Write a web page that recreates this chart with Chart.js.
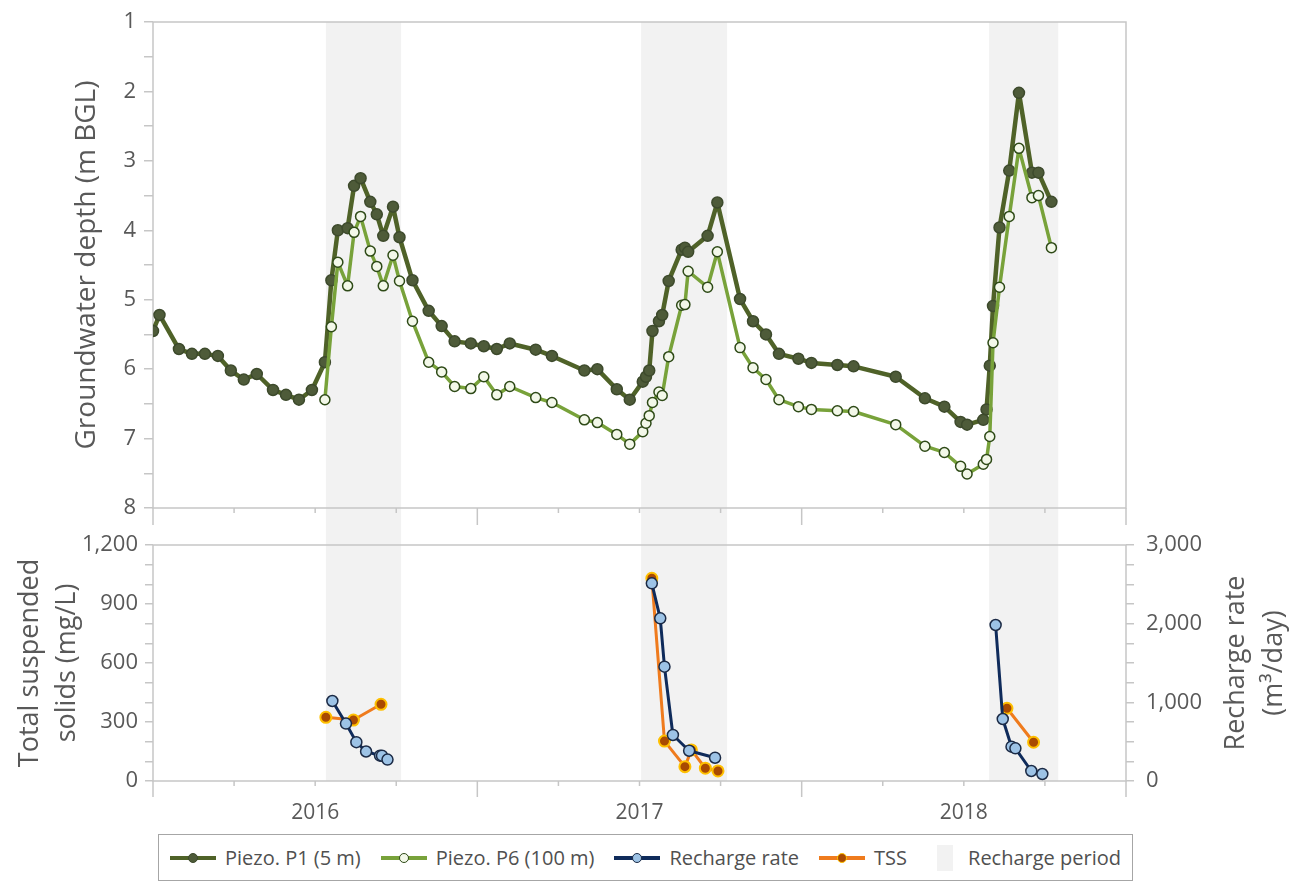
<!DOCTYPE html>
<html>
<head>
<meta charset="utf-8">
<script src="https://cdn.jsdelivr.net/npm/chart.js@4.4.1/dist/chart.umd.min.js"></script>
<style>
  body { margin: 0; background: #fff; font-family: 'Open Sans', sans-serif; }
  #wrap { position: relative; width: 1296px; height: 885px; overflow: hidden; }
  #topChart { position: absolute; left: 0; top: 0; }
  #bottomChart { position: absolute; left: 0; top: 525px; }
  #legend {
    position: absolute; left: 158px; top: 834px; width: 975px; height: 47px;
    box-sizing: border-box; border: 1.5px solid #a6a6a6;
    display: flex; align-items: center; justify-content: center; gap: 20px;
    font-size: 20px; color: #505050;
  }
  .item { display: flex; align-items: center; gap: 9px; }
  .sw { position: relative; width: 46px; height: 14px; }
  .sw .ln { position: absolute; left: 0; right: 0; top: 5px; height: 4px; }
  .sw .dot { position: absolute; left: 18px; top: 2px; width: 10px; height: 10px; border-radius: 50%;
             border: 1.5px solid; box-sizing: border-box; }
  .box { width: 16px; height: 26px; background: #f2f2f2; margin: 0 6px 0 10px; }
</style>
</head>
<body>
<div id="wrap">
  <canvas id="topChart" width="1296" height="525"></canvas>
  <canvas id="bottomChart" width="1296" height="305"></canvas>
  <div id="legend"></div>
</div>
<script>
// Piezometer P1 (5 m), groundwater depth in m below ground level
const p1Years = [2015.50, 2015.52, 2015.58, 2015.62, 2015.66, 2015.70, 2015.74, 2015.78, 2015.82, 2015.87,
  2015.91, 2015.95, 2015.99, 2016.03, 2016.05, 2016.07, 2016.10, 2016.12, 2016.14, 2016.17,
  2016.19, 2016.21, 2016.24, 2016.26, 2016.30, 2016.35, 2016.39, 2016.43, 2016.48, 2016.52,
  2016.56, 2016.60, 2016.68, 2016.73, 2016.83, 2016.87, 2016.93, 2016.97, 2017.01, 2017.02,
  2017.03, 2017.04, 2017.06, 2017.07, 2017.09, 2017.13, 2017.14, 2017.15, 2017.21, 2017.24,
  2017.31, 2017.35, 2017.39, 2017.43, 2017.49, 2017.53, 2017.61, 2017.66, 2017.79, 2017.88,
  2017.94, 2017.99, 2018.01, 2018.06, 2018.07, 2018.08, 2018.09, 2018.11, 2018.14, 2018.17,
  2018.21, 2018.23, 2018.27];
const p1Depth = [5.45, 5.22, 5.71, 5.78, 5.78, 5.81, 6.02, 6.15, 6.07, 6.30,
  6.37, 6.44, 6.30, 5.90, 4.72, 4.00, 3.97, 3.36, 3.25, 3.59,
  3.77, 4.08, 3.66, 4.10, 4.72, 5.16, 5.38, 5.60, 5.63, 5.67,
  5.71, 5.63, 5.72, 5.81, 6.02, 6.00, 6.29, 6.44, 6.18, 6.11,
  6.02, 5.45, 5.31, 5.22, 4.73, 4.28, 4.25, 4.31, 4.08, 3.60,
  4.99, 5.31, 5.50, 5.78, 5.85, 5.91, 5.94, 5.96, 6.11, 6.42,
  6.54, 6.76, 6.80, 6.73, 6.58, 5.95, 5.09, 3.96, 3.14, 2.02,
  3.17, 3.17, 3.59];

// Piezometer P6 (100 m)
const p6Years = [2016.03, 2016.05, 2016.07, 2016.10, 2016.12, 2016.14, 2016.17, 2016.19, 2016.21, 2016.24,
  2016.26, 2016.30, 2016.35, 2016.39, 2016.43, 2016.48, 2016.52, 2016.56, 2016.60, 2016.68,
  2016.73, 2016.83, 2016.87, 2016.93, 2016.97, 2017.01, 2017.02, 2017.03, 2017.04, 2017.06,
  2017.07, 2017.09, 2017.13, 2017.14, 2017.15, 2017.21, 2017.24, 2017.31, 2017.35, 2017.39,
  2017.43, 2017.49, 2017.53, 2017.61, 2017.66, 2017.79, 2017.88, 2017.94, 2017.99, 2018.01,
  2018.06, 2018.07, 2018.08, 2018.09, 2018.11, 2018.14, 2018.17, 2018.21, 2018.23, 2018.27];
const p6Depth = [6.44, 5.39, 4.46, 4.80, 4.03, 3.80, 4.30, 4.52, 4.80, 4.36,
  4.73, 5.31, 5.90, 6.04, 6.25, 6.28, 6.11, 6.37, 6.25, 6.41,
  6.48, 6.73, 6.77, 6.94, 7.08, 6.90, 6.78, 6.67, 6.48, 6.33,
  6.38, 5.82, 5.08, 5.07, 4.59, 4.82, 4.31, 5.69, 5.98, 6.15,
  6.44, 6.54, 6.58, 6.60, 6.61, 6.80, 7.11, 7.20, 7.40, 7.51,
  7.37, 7.30, 6.97, 5.62, 4.82, 3.80, 2.82, 3.53, 3.50, 4.25];

// Recharge rate (m3/day); null breaks the line between seasons
const rechargeYears = [2016.053, 2016.095, 2016.127, 2016.157, 2016.200, 2016.206, 2016.223, 2016.6,
  2017.038, 2017.064, 2017.077, 2017.103, 2017.153, 2017.233, 2017.6,
  2018.098, 2018.120, 2018.147, 2018.159, 2018.208, 2018.242];
const rechargeRate = [1017, 730, 494, 375, 322, 322, 272, null,
  2513, 2068, 1453, 585, 385, 296, null,
  1983, 788, 436, 415, 127, 89];

// Total suspended solids (mg/L)
const tssYears = [2016.033, 2016.118, 2016.203, 2016.6,
  2017.038, 2017.077, 2017.140, 2017.160, 2017.203, 2017.242, 2017.6,
  2018.133, 2018.215];
const tssValues = [324, 310, 390, null,
  1031, 203, 73, 158, 65, 51, null,
  370, 197];

// Recharge periods (decimal years)
const rechargeStart = [2016.033, 2017.005, 2018.078];
const rechargeEnd = [2016.265, 2017.270, 2018.291];

const depthTitle = 'Groundwater depth (m BGL)';
const tssTitle = ['Total suspended', 'solids (mg/L)'];
const rechargeTitle = ['Recharge rate', '(m³/day)'];

const textColor = '#595959';
const axisColor = '#c6c6c6';
Chart.defaults.font.family = "'Open Sans', sans-serif";
Chart.defaults.color = textColor;

const toXY = (xs, ys) => xs.map((x, i) => ({ x: x, y: ys[i] }));
// small line height keeps the label overflow from pushing the plot area
const tickFont = { size: 22, lineHeight: 0.65 };

// grey recharge bands, drawn before everything else
const bandsPlugin = {
  id: 'bands',
  beforeDraw(chart, args, opts) {
    const { ctx, chartArea, scales: { x } } = chart;
    const top = opts.fromTop ? 0 : chartArea.top;
    const bottom = opts.toBottom ? chart.height : chartArea.bottom;
    ctx.save();
    ctx.fillStyle = '#f2f2f2';
    rechargeStart.forEach((s, i) => {
      const x0 = x.getPixelForValue(s);
      const x1 = x.getPixelForValue(rechargeEnd[i]);
      ctx.fillRect(x0, top, x1 - x0, bottom - top);
    });
    ctx.restore();
  }
};

// plot frame + x tick marks (longer at mid-year)
const framePlugin = {
  id: 'frame',
  beforeDatasetsDraw(chart, args, opts) {
    const { ctx, chartArea: a, scales: { x } } = chart;
    ctx.save();
    ctx.strokeStyle = axisColor;
    ctx.lineWidth = 1.5;
    ctx.strokeRect(a.left, a.top, a.right - a.left, a.bottom - a.top);
    x.ticks.forEach(t => {
      const px = x.getPixelForValue(t.value);
      const len = Math.abs(t.value % 1 - 0.5) < 1e-6 ? opts.majorLen : opts.minorLen;
      ctx.beginPath();
      ctx.moveTo(px, a.bottom);
      ctx.lineTo(px, a.bottom + len);
      ctx.stroke();
    });
    ctx.restore();
  }
};

// right axis title reads bottom-to-top like the left one
const rightTitlePlugin = {
  id: 'rightTitle',
  afterDraw(chart) {
    const s = chart.scales.y2;
    const ctx = chart.ctx;
    const cy = (s.top + s.bottom) / 2;
    ctx.save();
    ctx.fillStyle = textColor;
    ctx.font = "27px 'Open Sans', sans-serif";
    ctx.textAlign = 'center';
    ctx.textBaseline = 'middle';
    rechargeTitle.forEach((line, i) => {
      ctx.save();
      ctx.translate(s.left + 110 + i * 38, cy);
      ctx.rotate(-Math.PI / 2);
      ctx.fillText(line, 0, 0);
      ctx.restore();
    });
    ctx.restore();
  }
};

const xScale = (height, showLabels) => ({
  type: 'linear',
  min: 2015.5,
  max: 2018.5,
  ticks: {
    display: showLabels,
    stepSize: 0.25,
    autoSkip: false,
    maxRotation: 0,
    padding: 19,
    font: { size: 21 },
    callback: v => Number.isInteger(v) ? String(v) : ''
  },
  grid: { display: true, drawOnChartArea: false, drawTicks: false, color: 'rgba(0,0,0,0)' },
  border: { display: false },
  afterFit: s => { s.height = height; }
});

new Chart(document.getElementById('topChart'), {
  type: 'line',
  data: {
    datasets: [
      {
        label: 'Piezo. P6 (100 m)',
        data: toXY(p6Years, p6Depth),
        borderColor: '#78a23a',
        borderWidth: 3.5,
        borderJoinStyle: 'round',
        pointRadius: 5,
        pointBackgroundColor: '#f3f8e9',
        pointBorderColor: '#2e4a17',
        pointBorderWidth: 1.5,
        tension: 0,
        order: 0
      },
      {
        label: 'Piezo. P1 (5 m)',
        data: toXY(p1Years, p1Depth),
        borderColor: '#4f6228',
        borderWidth: 4.5,
        borderJoinStyle: 'round',
        pointRadius: 5.5,
        pointBackgroundColor: '#4e5b39',
        pointBorderColor: '#3d4a2c',
        pointBorderWidth: 1.5,
        tension: 0,
        order: 1
      }
    ]
  },
  options: {
    responsive: false,
    animation: false,
    layout: { padding: { top: 22, right: 170, left: 0, bottom: 0 } },
    plugins: {
      legend: { display: false },
      tooltip: { enabled: false },
      bands: { fromTop: false, toBottom: true },
      frame: { majorLen: 17, minorLen: 5 }
    },
    scales: {
      x: xScale(17, false),
      y: {
        reverse: true,
        min: 1,
        max: 8,
        ticks: {
          stepSize: 0.5,
          maxTicksLimit: 100,
          autoSkip: false,
          padding: 8,
          font: tickFont,
          callback: v => Number.isInteger(v) ? String(v) : ''
        },
        grid: { drawOnChartArea: false, tickLength: 9, color: axisColor, lineWidth: 1.5 },
        border: { display: false },
        title: {
          display: true,
          text: depthTitle,
          font: { size: 28, lineHeight: 1.2 },
          padding: { top: 70, bottom: 0 }
        },
        afterFit: s => { s.width = 153; }
      }
    }
  },
  plugins: [bandsPlugin, framePlugin]
});

new Chart(document.getElementById('bottomChart'), {
  type: 'line',
  data: {
    datasets: [
      {
        label: 'Recharge rate',
        data: toXY(rechargeYears, rechargeRate),
        yAxisID: 'y2',
        borderColor: '#0f2b5b',
        borderWidth: 3,
        borderJoinStyle: 'round',
        pointRadius: 5.5,
        pointBackgroundColor: '#9dc3e6',
        pointBorderColor: '#1b2a45',
        pointBorderWidth: 1.5,
        spanGaps: false,
        tension: 0,
        order: 0
      },
      {
        label: 'TSS',
        data: toXY(tssYears, tssValues),
        yAxisID: 'y',
        borderColor: '#ef7b1d',
        borderWidth: 3,
        borderJoinStyle: 'round',
        pointRadius: 5.5,
        pointBackgroundColor: '#a94a02',
        pointBorderColor: '#ffc000',
        pointBorderWidth: 2,
        spanGaps: false,
        tension: 0,
        order: 1
      }
    ]
  },
  options: {
    responsive: false,
    animation: false,
    layout: { padding: { top: 20, right: 0, left: 0, bottom: 0 } },
    plugins: {
      legend: { display: false },
      tooltip: { enabled: false },
      bands: { fromTop: true, toBottom: false },
      frame: { majorLen: 16, minorLen: 5 }
    },
    scales: {
      x: xScale(49, true),
      y: {
        position: 'left',
        min: 0,
        max: 1200,
        ticks: {
          stepSize: 100,
          maxTicksLimit: 100,
          autoSkip: false,
          padding: 7,
          font: tickFont,
          callback: v => v % 300 === 0 ? v.toLocaleString('en-US') : ''
        },
        grid: { drawOnChartArea: false, tickLength: 8, color: axisColor, lineWidth: 1.5 },
        border: { display: false },
        title: {
          display: true,
          text: tssTitle,
          font: { size: 27, lineHeight: 1.4 },
          padding: { top: 11, bottom: 0 }
        },
        afterFit: s => { s.width = 153; }
      },
      y2: {
        position: 'right',
        min: 0,
        max: 3000,
        ticks: {
          stepSize: 250,
          maxTicksLimit: 100,
          autoSkip: false,
          padding: 12,
          font: tickFont,
          callback: v => v % 1000 === 0 ? v.toLocaleString('en-US') : ''
        },
        grid: { drawOnChartArea: false, tickLength: 8, color: axisColor, lineWidth: 1.5 },
        border: { display: false },
        afterFit: s => { s.width = 170; }
      }
    }
  },
  plugins: [bandsPlugin, framePlugin, rightTitlePlugin]
});

// HTML legend
const legendItems = [
  { name: 'Piezo. P1 (5 m)', line: '#4f6228', fill: '#4e5b39', edge: '#3d4a2c' },
  { name: 'Piezo. P6 (100 m)', line: '#78a23a', fill: '#f3f8e9', edge: '#2e4a17' },
  { name: 'Recharge rate', line: '#0f2b5b', fill: '#9dc3e6', edge: '#1b2a45' },
  { name: 'TSS', line: '#ef7b1d', fill: '#a94a02', edge: '#ffc000' },
  { name: 'Recharge period', box: true }
];
const legend = document.getElementById('legend');
legendItems.forEach(it => {
  const div = document.createElement('div');
  div.className = 'item';
  if (it.box) {
    div.innerHTML = `<span class="box"></span>${it.name}`;
  } else {
    div.innerHTML = `<span class="sw"><i class="ln" style="background:${it.line}"></i>` +
      `<i class="dot" style="background:${it.fill};border-color:${it.edge}"></i></span>${it.name}`;
  }
  legend.appendChild(div);
});
</script>
</body>
</html>
